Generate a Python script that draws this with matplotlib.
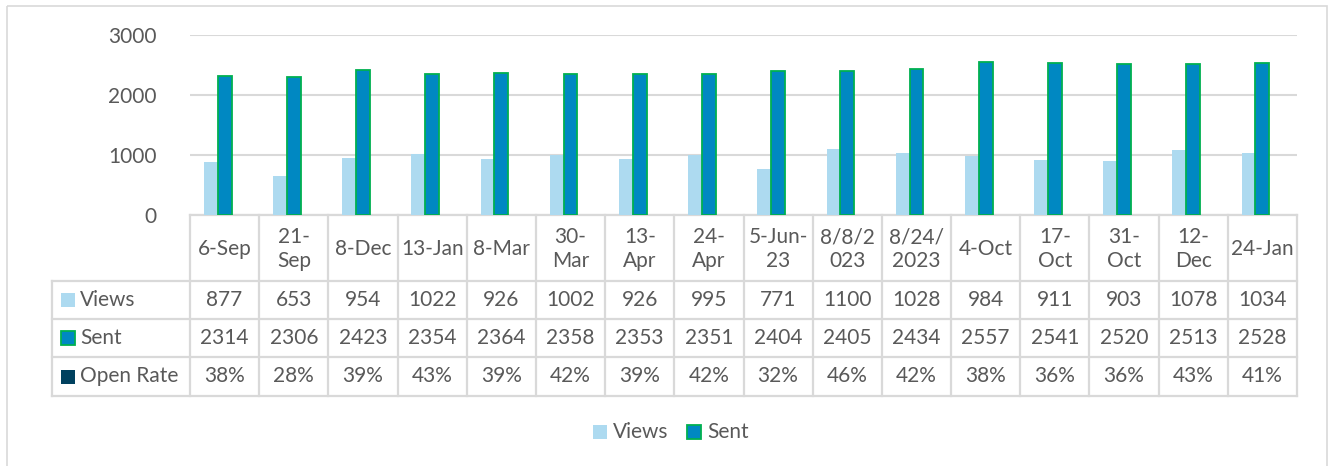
import numpy as np
import matplotlib
matplotlib.use('Agg')
import matplotlib.pyplot as plt
from matplotlib.patches import Rectangle

plt.rcParams['font.family'] = ['Lato', 'DejaVu Sans']

# data
dates = ['6-Sep', '21-\nSep', '8-Dec', '13-Jan', '8-Mar', '30-\nMar', '13-\nApr', '24-\nApr',
         '5-Jun-\n23', '8/8/2\n023', '8/24/\n2023', '4-Oct', '17-\nOct', '31-\nOct', '12-\nDec', '24-Jan']
views = [877, 653, 954, 1022, 926, 1002, 926, 995, 771, 1100, 1028, 984, 911, 903, 1078, 1034]
sent = [2314, 2306, 2423, 2354, 2364, 2358, 2353, 2351, 2404, 2405, 2434, 2557, 2541, 2520, 2513, 2528]
open_rate = [0.38, 0.28, 0.39, 0.43, 0.39, 0.42, 0.39, 0.42, 0.32, 0.46, 0.42, 0.38, 0.36, 0.36, 0.43, 0.41]
y_ticks = [0, 1000, 2000, 3000]

c_views = '#ADDAF0'
c_sent = '#0088C2'
c_sent_edge = '#00B050'
c_open = '#00415F'
txt = '#595959'
grid = '#D9D9D9'
fs = 15

W, H = 1331, 466
fig = plt.figure(figsize=(W / 100, H / 100), dpi=100)

# pixel layout
left, right = 190, 1297
top, base = 35, 215
lab_left = 52
rows = [215, 281, 319, 357, 396]

# background / border layer in pixel coords
bg = fig.add_axes([0, 0, 1, 1])
bg.set_xlim(0, W)
bg.set_ylim(H, 0)
bg.axis('off')
bg.add_patch(Rectangle((7, 6), 1320, 470, fill=False, ec=grid, lw=1.2))

ax = fig.add_axes([left / W, 1 - base / H, (right - left) / W, (base - top) / H])
x = np.arange(len(dates))
w = 0.2
ax.bar(x - w, views, w, color=c_views, zorder=3)
ax.bar(x, sent, w, color=c_sent, edgecolor=c_sent_edge, linewidth=1.3, zorder=3)
ax.bar(x + w, open_rate, w, color=c_open, zorder=3)
ax.set_xlim(-0.5, len(dates) - 0.5)
ax.set_ylim(0, 3000)
ax.set_yticks(y_ticks)
ax.set_yticklabels([str(t) for t in y_ticks], fontsize=fs, color=txt)
ax.tick_params(axis='y', length=0, pad=24)
ax.set_xticks([])
for s in ax.spines.values():
    s.set_visible(False)
ax.yaxis.grid(True, color=grid, lw=1.5, zorder=0)
ax.set_facecolor('none')

# data table drawn under the plot
col_w = (right - left) / len(dates)
lc = dict(color=grid, lw=1.6)
bg.plot([left, right], [rows[0], rows[0]], **lc)
for r in rows[1:]:
    bg.plot([lab_left, right], [r, r], **lc)
for i in range(len(dates) + 1):
    xx = left + i * col_w
    bg.plot([xx, xx], [rows[0], rows[-1]], **lc)
bg.plot([lab_left, lab_left], [rows[1], rows[-1]], **lc)

row_names = ['Views', 'Sent', 'Open Rate']
row_vals = [[str(v) for v in views], [str(v) for v in sent], ['%d%%' % round(v * 100) for v in open_rate]]
keys = [dict(fc=c_views, ec='none'), dict(fc=c_sent, ec=c_sent_edge, lw=1.3), dict(fc=c_open, ec='none')]

for i, d in enumerate(dates):
    cx = left + (i + 0.5) * col_w
    bg.text(cx, (rows[0] + rows[1]) / 2 + 1, d, ha='center', va='center', fontsize=fs,
            color=txt, linespacing=1.2)
for j, name in enumerate(row_names):
    cy = (rows[j + 1] + rows[j + 2]) / 2
    bg.add_patch(Rectangle((61, cy - 7), 14, 14, **keys[j]))
    bg.text(80, cy, name, ha='left', va='center', fontsize=fs, color=txt)
    for i, v in enumerate(row_vals[j]):
        cx = left + (i + 0.5) * col_w
        bg.text(cx, cy, v, ha='center', va='center', fontsize=fs, color=txt)

# legend (only Views and Sent)
ly = 432
bg.add_patch(Rectangle((593, ly - 7), 14, 14, **keys[0]))
bg.text(613, ly, 'Views', ha='left', va='center', fontsize=fs, color=txt)
bg.add_patch(Rectangle((687, ly - 7), 14, 14, **keys[1]))
bg.text(707, ly, 'Sent', ha='left', va='center', fontsize=fs, color=txt)

fig.savefig('out.png', dpi=100)
